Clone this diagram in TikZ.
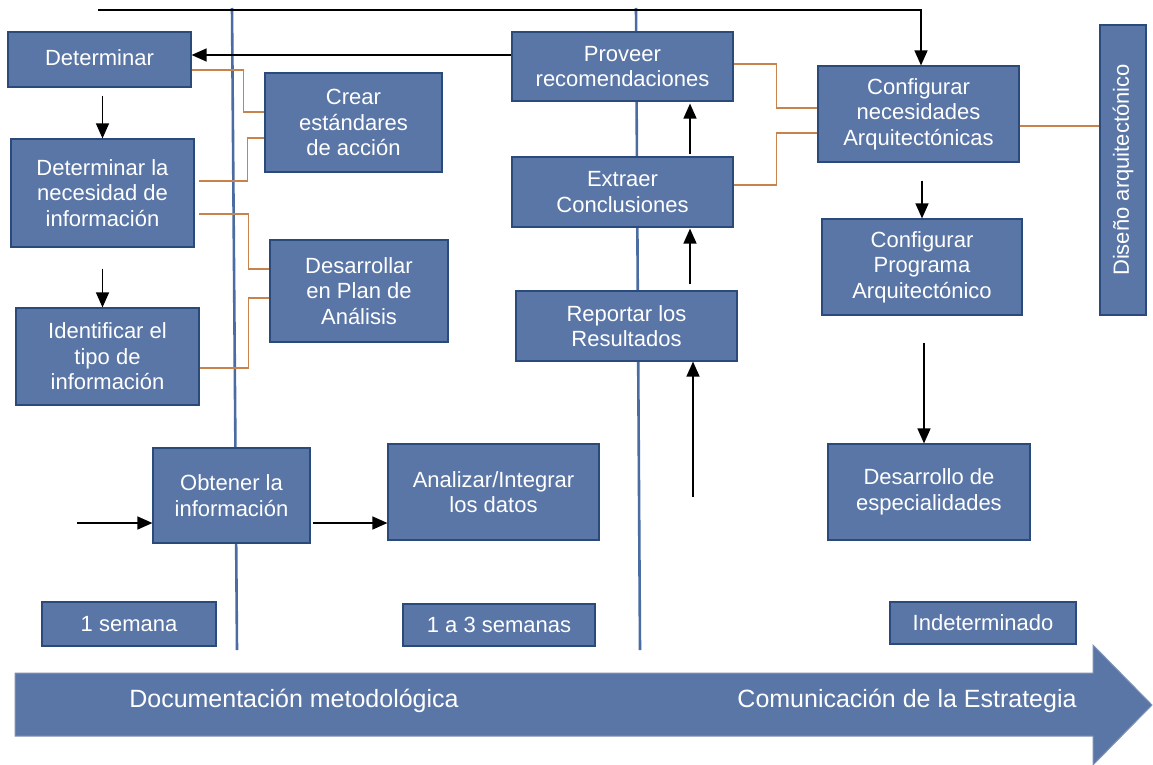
\documentclass[tikz,border=0pt]{standalone}
\usepackage{fontspec}
\setmainfont{Liberation Sans}
\usetikzlibrary{arrows.meta,calc}
\definecolor{boxfill}{HTML}{5A76A6}
\definecolor{boxline}{HTML}{2A4A7C}
\definecolor{vline}{HTML}{4A6CA2}
\definecolor{orl}{HTML}{C8834C}
\definecolor{arrline}{HTML}{7F93B5}
\begin{document}
\begin{tikzpicture}[x=1pt,y=-1pt,
 box/.style={draw=boxline, line width=1.2pt, fill=boxfill, text=white, align=center, inner sep=0pt, font=\fontsize{22}{25.5}\selectfont},
 arr/.style={draw=black, line width=1.4pt, -{Triangle[width=13pt,length=15pt]}},
 oline/.style={draw=orl, line width=1.4pt},
 blueline/.style={draw=vline, line width=2.6pt},
 arrtext/.style={text=white, inner sep=0pt, font=\fontsize{25}{30}\selectfont}]
\useasboundingbox (0,0) rectangle (1153,765);
\fill[white] (0,0) rectangle (1153,765);

% vertical blue lines
\coordinate (v1t) at (232,8);
\coordinate (v1b) at (237,650);
\coordinate (v2t) at (636,8);
\coordinate (v2b) at (640,650);
\draw[blueline] (v1t) -- (v1b);
\draw[blueline] (v2t) -- (v2b);

% big arrow
\draw[fill=boxfill, draw=arrline, line width=1pt] (15,673) -- (1093,673) -- (1093,645) -- (1152,705) -- (1093,765) -- (1093,736) -- (15,736) -- cycle;
\node[arrtext] (doc) at (294,701) {Documentación metodológica};
\node[arrtext] (com) at (907,701) {Comunicación de la Estrategia};

% boxes
\node[box, minimum width=183, minimum height=55] (det) at (99.5,59.5) {\raisebox{4pt}{Determinar}};
\node[box, minimum width=183, minimum height=108] (nec) at (102.5,193) {Determinar la\\necesidad de\\información};
\node[box, minimum width=183, minimum height=97] (ide) at (107.5,356.5) {Identificar el\\tipo de\\información};
\node[box, minimum width=177, minimum height=99] (cre) at (353.5,122.5) {Crear\\estándares\\de acción};
\node[box, minimum width=178, minimum height=102] (des) at (359,291) {Desarrollar\\en Plan de\\Análisis};
\node[box, minimum width=157, minimum height=95] (obt) at (231.5,495.5) {Obtener la\\información};
\node[box, minimum width=211, minimum height=96] (ana) at (493.5,492) {Analizar/Integrar\\los datos};
\node[box, minimum width=221, minimum height=69] (pro) at (622.5,66.5) {Proveer\\recomendaciones};
\node[box, minimum width=221, minimum height=70] (ext) at (622.5,192) {Extraer\\Conclusiones};
\node[box, minimum width=221, minimum height=70] (rep) at (626.5,326) {Reportar los\\Resultados};
\node[box, minimum width=201, minimum height=96] (cna) at (918.5,114) {Configurar\\necesidades\\Arquitectónicas};
\node[box, minimum width=200, minimum height=96] (cpa) at (922,267) {Configurar\\Programa\\Arquitectónico};
\node[box, minimum width=202, minimum height=96] (dde) at (929,492) {Desarrollo de\\especialidades};
\node[box, rotate=90, minimum width=290, minimum height=46] (dis) at (1123,170) {Diseño arquitectónico};
\node[box, minimum width=174, minimum height=44] (s1) at (129,624) {1 semana};
\node[box, minimum width=192, minimum height=42] (s3) at (499,625) {1 a 3 semanas};
\node[box, minimum width=186, minimum height=42] (ind) at (983,623) {Indeterminado};

% black connectors
\coordinate (top) at (98,10);
\draw[arr] (top) -| ([xshift=2.5pt]cna.north);
\draw[arr] ([yshift=11.5pt]pro.west) -- ([yshift=11.5pt]pro.west -| det.east);
\draw[arr] ([yshift=-8pt]det.south -| nec.north) -- (nec.north);
\draw[arr] ([yshift=-21pt]nec.south) -- (nec.south |- ide.north);
\coordinate (in1) at (77,523);
\draw[arr] (in1) -- (in1 -| obt.west);
\draw[arr] ([xshift=2pt]obt.east |- in1) -- (ana.west |- in1);
\coordinate (up1) at (693,497);
\draw[arr] (up1) -- (up1 |- rep.south);
\coordinate (ax) at (690,0);
\draw[arr] ([yshift=6pt]rep.north -| ax) -- ([yshift=-1pt]ext.south -| ax);
\draw[arr] ([yshift=2pt]ext.north -| ax) -- ([yshift=-2pt]pro.south -| ax);
\draw[arr] ([yshift=-18pt]cna.south -| cpa.north) -- (cpa.north);
\draw[arr] ([xshift=2pt,yshift=-27pt]cpa.south) -- ([xshift=2pt]cpa.south |- dde.north);

% orange connectors
\draw[oline] ([yshift=-10.5pt]det.east) -- ++(52,0) |- ([yshift=10.5pt]cre.west);
\draw[oline] ([xshift=4pt,yshift=12pt]nec.east) -- ++(49,0) |- ([yshift=-15.5pt]cre.west);
\draw[oline] ([xshift=4pt,yshift=-21pt]nec.east) -- ++(50,0) |- ([yshift=22pt]des.west);
\draw[oline] ([yshift=-11.5pt]ide.east) -- ++(49,0) |- ([yshift=-7pt]des.west);
\draw[oline] ([yshift=2.5pt]pro.east) -- ++(43,0) |- ([yshift=6pt]cna.west);
\draw[oline] ([yshift=7pt]ext.east) -- ++(43,0) |- ([yshift=-19pt]cna.west);
\draw[oline] ([yshift=-12pt]cna.east) -- ([yshift=-12pt]cna.east -| dis.north);
\end{tikzpicture}
\end{document}
